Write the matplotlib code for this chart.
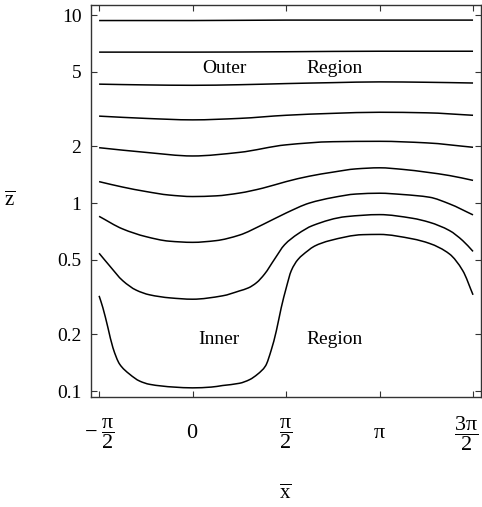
import numpy as np
import matplotlib
matplotlib.use("Agg")
import matplotlib.pyplot as plt
import matplotlib.transforms as mtransforms
from matplotlib.path import Path
from matplotlib.patches import PathPatch

plt.rcParams["font.family"] = ["Liberation Serif", "DejaVu Serif"]
plt.rcParams["mathtext.fontset"] = "custom"
plt.rcParams["mathtext.rm"] = "Liberation Serif"
plt.rcParams["mathtext.it"] = "Liberation Serif"
plt.rcParams["mathtext.bf"] = "Liberation Serif:bold"

# ── data: x in units of pi, z values ──
x1 = [-0.5, 0.0, 0.5, 1.0, 1.5]
z1 = [9.35, 9.35, 9.4, 9.4, 9.4]

x2 = [-0.5, 0.0, 0.5, 1.0, 1.5]
z2 = [6.35, 6.35, 6.38, 6.42, 6.42]

x3 = [-0.5, -0.25, 0.0, 0.25, 0.5, 0.75, 1.0, 1.25, 1.5]
z3 = [4.29, 4.25, 4.23, 4.26, 4.32, 4.37, 4.41, 4.39, 4.35]

x4 = [-0.5, -0.25, 0.0, 0.25, 0.5, 0.75, 1.0, 1.25, 1.5]
z4 = [2.90, 2.82, 2.77, 2.82, 2.93, 3.00, 3.04, 3.02, 2.93]

x5 = [-0.5, -0.25, 0.0, 0.25, 0.5, 0.75, 1.0, 1.25, 1.5]
z5 = [1.97, 1.86, 1.78, 1.86, 2.04, 2.12, 2.13, 2.09, 1.98]

x6 = [-0.5, -0.375, -0.25, -0.125, 0.0, 0.125, 0.25, 0.375, 0.5,
      0.625, 0.75, 0.875, 1.0, 1.125, 1.25, 1.375, 1.5]
z6 = [1.30, 1.217, 1.152, 1.103, 1.083, 1.092, 1.13, 1.20, 1.30,
      1.39, 1.46, 1.52, 1.54, 1.51, 1.46, 1.40, 1.32]

x7 = [-0.5, -0.375, -0.25, -0.125, 0.0, 0.125, 0.25, 0.375, 0.5,
      0.625, 0.75, 0.875, 1.0, 1.125, 1.267, 1.374, 1.5]
z7 = [0.850, 0.729, 0.663, 0.627, 0.618, 0.631, 0.675, 0.768, 0.885,
      1.0, 1.07, 1.117, 1.128, 1.11, 1.074, 0.99, 0.865]

x8 = [-0.5, -0.444, -0.373, -0.301, -0.230, -0.12, 0.0, 0.160, 0.251,
      0.299, 0.342, 0.385, 0.439, 0.492, 0.563, 0.642, 0.822, 1.0, 1.176,
      1.267, 1.374, 1.445, 1.5]
z8 = [0.541, 0.464, 0.386, 0.344, 0.325, 0.313, 0.308, 0.321, 0.341,
      0.354, 0.377, 0.419, 0.504, 0.600, 0.685, 0.759, 0.847, 0.868, 0.83,
      0.79, 0.714, 0.631, 0.553]

x9 = [-0.5, -0.480, -0.453, -0.426, -0.390, -0.337, -0.283, -0.230, -0.1,
      0.0, 0.1, 0.160, 0.251, 0.305, 0.348, 0.390, 0.421, 0.448, 0.474,
      0.501, 0.528, 0.563, 0.617, 0.652, 0.733, 0.911, 1.0, 1.176, 1.267,
      1.374, 1.445, 1.5]
z9 = [0.321, 0.278, 0.218, 0.170, 0.139, 0.123, 0.113, 0.1086, 0.105,
      0.104, 0.105, 0.107, 0.110, 0.115, 0.123, 0.136, 0.1655, 0.209, 0.277,
      0.354, 0.437, 0.500, 0.558, 0.590, 0.631, 0.679, 0.681, 0.645, 0.61,
      0.536, 0.437, 0.325]

streamlines = [(x1, z1), (x2, z2), (x3, z3), (x4, z4), (x5, z5),
               (x6, z6), (x7, z7), (x8, z8), (x9, z9)]

xtick_vals = [-0.5, 0.0, 0.5, 1.0, 1.5]
xtick_labels = [r"$-\;\dfrac{\pi}{2}$", r"$0$", r"$\dfrac{\pi}{2}$",
                r"$\pi$", r"$\dfrac{3\pi}{2}$"]
ytick_vals = [0.1, 0.2, 0.5, 1, 2, 5, 10]
ytick_labels = ["0.1", "0.2", "0.5", "1", "2", "5", "10"]


def smooth_path(xs, zs):
    # cubic Hermite (pchip-style slopes) in (x, log z), drawn as Bezier segments
    x = np.asarray(xs, float) * np.pi
    y = np.log10(zs)
    h = np.diff(x)
    d = np.diff(y) / h
    m = np.zeros_like(y)
    m[0], m[-1] = d[0], d[-1]
    for i in range(1, len(y) - 1):
        if d[i - 1] * d[i] > 0:
            w1 = 2 * h[i] + h[i - 1]
            w2 = h[i] + 2 * h[i - 1]
            m[i] = (w1 + w2) / (w1 / d[i - 1] + w2 / d[i])
    verts = [(x[0], y[0])]
    codes = [Path.MOVETO]
    for i in range(len(h)):
        verts += [(x[i] + h[i] / 3, y[i] + m[i] * h[i] / 3),
                  (x[i + 1] - h[i] / 3, y[i + 1] - m[i + 1] * h[i] / 3),
                  (x[i + 1], y[i + 1])]
        codes += [Path.CURVE4] * 3
    verts = np.array(verts)
    verts[:, 1] = 10 ** verts[:, 1]
    return Path(verts, codes)


# ── figure ──
fig = plt.figure(figsize=(4.82, 5.07), dpi=100)
ax = fig.add_axes([0.189, 0.217, 0.809, 0.773])

ax.set_yscale("log")
ax.set_xlim(-1.705, 4.847)
ax.set_ylim(0.093, 11.3)

for xs, zs in streamlines:
    ax.add_patch(PathPatch(smooth_path(xs, zs), facecolor="none",
                           edgecolor="black", lw=1.1))

ax.set_xticks(np.array(xtick_vals) * np.pi)
ax.set_xticklabels(xtick_labels, fontsize=16)
ax.set_yticks(ytick_vals)
ax.set_yticklabels(ytick_labels, fontsize=14)
ax.yaxis.set_minor_locator(matplotlib.ticker.NullLocator())

ax.tick_params(direction="in", length=4, width=0.8, color="#333333",
               top=True, right=True)
ax.tick_params(axis="y", pad=7)
ax.tick_params(axis="x", pad=26)
for lab in ax.get_xticklabels():
    lab.set_va("center")

# nudge the 3pi/2 label left, as in the original
ticks = ax.xaxis.get_major_ticks()
off = mtransforms.ScaledTranslation(-7 / 100, 0, fig.dpi_scale_trans)
ticks[-1].label1.set_transform(ticks[-1].label1.get_transform() + off)

for sp in ax.spines.values():
    sp.set_color("#333333")
    sp.set_linewidth(1.0)

ax.set_ylabel(r"$\overline{\mathrm{z}}$", fontsize=15, rotation=0,
              va="center", ha="center")
ax.yaxis.set_label_coords(-0.208, 0.5)
ax.set_xlabel(r"$\overline{\mathrm{x}}$", fontsize=15, va="center")
ax.xaxis.set_label_coords(0.497, -0.247)

ax.text(0.171 * np.pi, 4.89, "Outer", fontsize=14, ha="center", va="baseline")
ax.text(0.759 * np.pi, 4.89, "Region", fontsize=14, ha="center", va="baseline")
ax.text(0.139 * np.pi, 0.1775, "Inner", fontsize=14, ha="center", va="baseline")
ax.text(0.759 * np.pi, 0.1775, "Region", fontsize=14, ha="center", va="baseline")

fig.savefig("out.png", dpi=100)
